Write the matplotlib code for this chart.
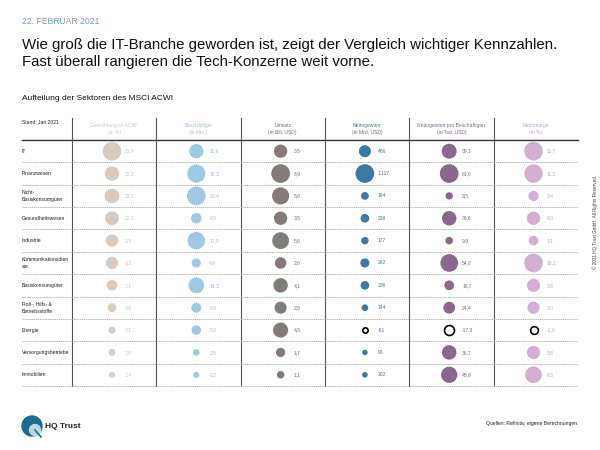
import numpy as np
import matplotlib
matplotlib.use('Agg')
import matplotlib.pyplot as plt
from matplotlib.patches import Circle

plt.rcParams['font.family'] = ['Liberation Sans', 'DejaVu Sans']

# data
sectors = ['IT', 'Finanzwesen', 'Nicht-\nBasiskonsumgüter', 'Gesundheitswesen', 'Industrie',
           'Kommunikationsdien\nste', 'Basiskonsumgüter', 'Roh-, Hilfs- &\nBetriebsstoffe',
           'Energie', 'Versorgungsbetriebe', 'Immobilien']
gewichtung = [21.9, 13.2, 13.1, 12.0, 9.5, 9.2, 7.1, 4.8, 3.1, 3.0, 2.4]
beschaeftigte = [11.9, 19.3, 20.4, 6.5, 17.9, 4.9, 14.3, 5.9, 5.3, 2.5, 2.2]
umsatz = [3.5, 6.9, 5.8, 3.5, 5.6, 2.6, 4.1, 2.9, 4.5, 1.7, 1.1]
nettogewinn = [466, 1117, 194, 238, 177, 262, 236, 144, -91, 96, 102]
gewinn_pro_kopf = [39.1, 61.0, 9.5, 36.6, 9.9, 54.8, 16.7, 24.4, -17.3, 36.7, 45.9]
nettomarge = [11.7, 11.3, 3.4, 6.0, 3.1, 18.1, 5.8, 5.0, -2.0, 5.8, 9.3]

headers = ['Gewichtung im ACWI\n(in %)', 'Beschäftigte\n(in Mio.)', 'Umsatz\n(in Bill. USD)',
           'Nettogewinn\n(in Mrd. USD)', 'Nettogewinn pro Beschäftigter\n(in Tsd. USD)', 'Nettomarge\n(in %)']
columns = [gewichtung, beschaeftigte, umsatz, nettogewinn, gewinn_pro_kopf, nettomarge]
circle_colors = ['#d9cabd', '#9dc9e3', '#857a79', '#3d7aa3', '#8b668e', '#d4aed0']
text_colors = ['#d3c3b5', '#94c2de', '#7a7070', '#3d7aa3', '#8b668e', '#c9a0c6']
size_ref = [21.9, 20.4, 6.9, 1117, 61.0, 11.7]


def fmt(v, col):
    if col == 3:
        return '{:,}'.format(int(v)).replace(',', '.')
    return ('%.1f' % v).replace('.', ',')


fig = plt.figure(figsize=(6, 4.5), dpi=100)
ax = fig.add_axes([0, 0, 1, 1])
ax.set_xlim(0, 600)
ax.set_ylim(450, 0)
ax.axis('off')

# heading
ax.text(22, 22, '22. FEBRUAR 2021', fontsize=6.2, color='#6f9cc0', va='center')
ax.text(22, 45, 'Wie groß die IT-Branche geworden ist, zeigt der Vergleich wichtiger Kennzahlen.',
        fontsize=10.8, color='#111111', va='center')
ax.text(22, 62, 'Fast überall rangieren die Tech-Konzerne weit vorne.',
        fontsize=10.8, color='#111111', va='center')
ax.text(22, 99, 'Aufteilung der Sektoren des MSCI ACWI', fontsize=6.0, color='#111111', va='center')

# table geometry
left, right = 22, 578
first_col = 72
col_w = 84.3
top_line = 140
row_h = 22.36
n = len(sectors)

ax.text(left, 122, 'Stand: Jan 2021', fontsize=3.6, color='#222222', va='center')
ax.plot([left, right], [top_line, top_line], color='#333333', lw=1.0)
for k in range(6):
    x = first_col + k * col_w
    ax.plot([x, x], [118, top_line + n * row_h], color='#555555', lw=0.8)
    ax.text(x + col_w / 2, 129, headers[k], fontsize=3.6, color=text_colors[k],
            ha='center', va='center', linespacing=1.5)

for i in range(n):
    yb = top_line + (i + 1) * row_h
    ax.plot([left, right], [yb, yb], color='#aaaaaa', lw=0.6, ls=(0, (1.5, 0.8)))
    yc = top_line + (i + 0.5) * row_h
    ax.text(left, yc, sectors[i], fontsize=3.6, color='#222222', va='center', linespacing=1.5)

dmax = 18.7
for k, vals in enumerate(columns):
    vals = np.array(vals, dtype=float)
    d = np.minimum(dmax * np.sqrt(np.abs(vals) / size_ref[k]), dmax)
    s = (d * 0.72) ** 2
    xs = np.full(n, first_col + k * col_w + 40)
    ys = top_line + (np.arange(n) + 0.5) * row_h
    pos = vals >= 0
    ax.scatter(xs[pos], ys[pos], s=s[pos], color=circle_colors[k], linewidths=0, zorder=3)
    ax.scatter(xs[~pos], ys[~pos], s=s[~pos], facecolor='white', edgecolor='black',
               linewidths=1.2, zorder=3)
    for i in range(n):
        ax.text(first_col + k * col_w + 53, ys[i], fmt(vals[i], k), fontsize=3.6,
                color=text_colors[k], va='center')

# footer
ax.add_patch(Circle((32, 426), 10, color='#1b6c93'))
ax.add_patch(Circle((35, 430), 5.5, color='#bcd6e3'))
ax.plot([35, 41], [430, 437], color='#1b6c93', lw=1.2)
ax.text(45, 426, 'HQ Trust', fontsize=6, fontweight='bold', color='#222222', va='center')
ax.text(578, 424, 'Quellen: Refinitiv, eigene Berechnungen.', fontsize=3.6, color='#222222',
        ha='right', va='center')
ax.text(595, 222, '© 2021 HQ Trust GmbH. All Rights Reserved.', fontsize=3.3, color='#444444',
        rotation=90, ha='center', va='center')

fig.savefig('out.png', dpi=100)
